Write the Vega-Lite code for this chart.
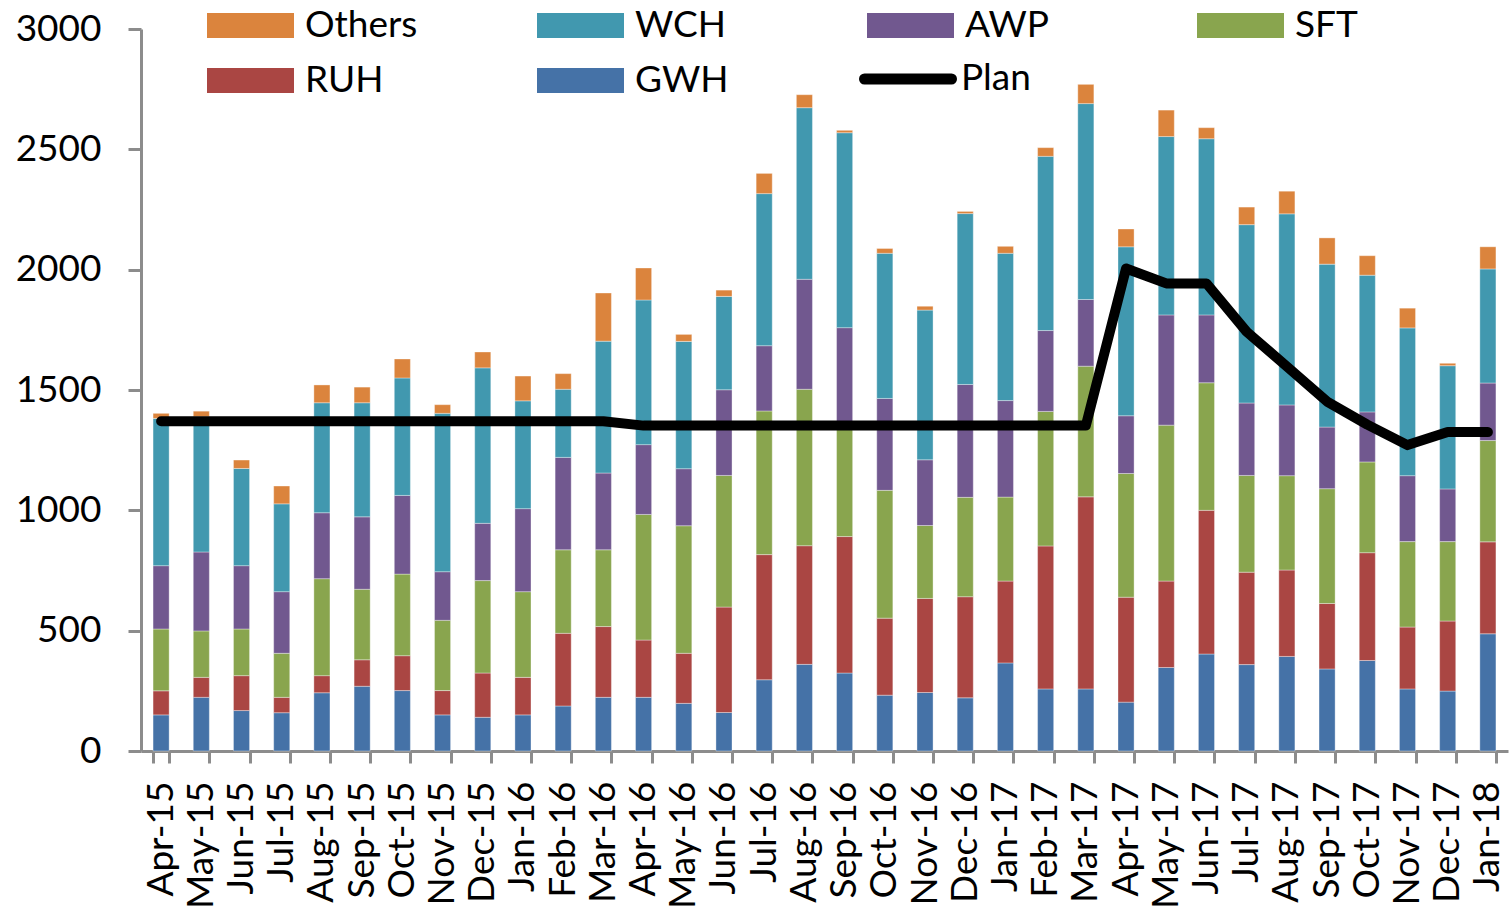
{
  "$schema": "https://vega.github.io/schema/vega-lite/v6.json",
  "width": 1367,
  "height": 722,
  "autosize": "none",
  "padding": {"left": 141, "top": 29, "right": 2, "bottom": 165},
  "background": "white",
  "config": {
    "view": {"stroke": null},
    "font": "Lato",
    "axis": {"labelFont": "Lato", "labelFontSize": 37, "labelColor": "#000000", "domainColor": "#8c8c8c", "domainWidth": 3, "tickColor": "#8c8c8c", "tickWidth": 3, "grid": false, "title": null},
    "legend": {"labelFont": "Lato", "labelFontSize": 37, "labelColor": "#000000", "labelOffset": 11, "labelLimit": 300, "padding": 0, "title": null}
  },
  "data": {
    "values": [
      {"m": "Apr-15", "GWH": 150, "RUH": 100, "SFT": 257, "AWP": 263, "WCH": 612, "Others": 21, "Plan": 1370},
      {"m": "May-15", "GWH": 223, "RUH": 83, "SFT": 193, "AWP": 328, "WCH": 562, "Others": 23, "Plan": 1370},
      {"m": "Jun-15", "GWH": 168, "RUH": 145, "SFT": 194, "AWP": 263, "WCH": 404, "Others": 35, "Plan": 1370},
      {"m": "Jul-15", "GWH": 159, "RUH": 64, "SFT": 183, "AWP": 256, "WCH": 365, "Others": 74, "Plan": 1370},
      {"m": "Aug-15", "GWH": 242, "RUH": 71, "SFT": 403, "AWP": 274, "WCH": 457, "Others": 74, "Plan": 1370},
      {"m": "Sep-15", "GWH": 269, "RUH": 110, "SFT": 293, "AWP": 301, "WCH": 474, "Others": 65, "Plan": 1370},
      {"m": "Oct-15", "GWH": 251, "RUH": 145, "SFT": 339, "AWP": 327, "WCH": 488, "Others": 79, "Plan": 1370},
      {"m": "Nov-15", "GWH": 150, "RUH": 101, "SFT": 292, "AWP": 202, "WCH": 658, "Others": 36, "Plan": 1370},
      {"m": "Dec-15", "GWH": 140, "RUH": 184, "SFT": 384, "AWP": 238, "WCH": 646, "Others": 66, "Plan": 1370},
      {"m": "Jan-16", "GWH": 150, "RUH": 156, "SFT": 356, "AWP": 345, "WCH": 448, "Others": 103, "Plan": 1370},
      {"m": "Feb-16", "GWH": 187, "RUH": 302, "SFT": 347, "AWP": 384, "WCH": 283, "Others": 65, "Plan": 1370},
      {"m": "Mar-16", "GWH": 223, "RUH": 294, "SFT": 319, "AWP": 319, "WCH": 548, "Others": 200, "Plan": 1370},
      {"m": "Apr-16", "GWH": 223, "RUH": 238, "SFT": 522, "AWP": 290, "WCH": 601, "Others": 133, "Plan": 1352},
      {"m": "May-16", "GWH": 198, "RUH": 208, "SFT": 530, "AWP": 237, "WCH": 529, "Others": 29, "Plan": 1352},
      {"m": "Jun-16", "GWH": 160, "RUH": 438, "SFT": 547, "AWP": 356, "WCH": 388, "Others": 26, "Plan": 1352},
      {"m": "Jul-16", "GWH": 296, "RUH": 520, "SFT": 597, "AWP": 271, "WCH": 632, "Others": 84, "Plan": 1352},
      {"m": "Aug-16", "GWH": 360, "RUH": 493, "SFT": 650, "AWP": 457, "WCH": 713, "Others": 54, "Plan": 1352},
      {"m": "Sep-16", "GWH": 324, "RUH": 567, "SFT": 459, "AWP": 409, "WCH": 810, "Others": 10, "Plan": 1352},
      {"m": "Oct-16", "GWH": 232, "RUH": 320, "SFT": 531, "AWP": 382, "WCH": 603, "Others": 20, "Plan": 1352},
      {"m": "Nov-16", "GWH": 243, "RUH": 391, "SFT": 303, "AWP": 273, "WCH": 622, "Others": 16, "Plan": 1352},
      {"m": "Dec-16", "GWH": 221, "RUH": 420, "SFT": 413, "AWP": 469, "WCH": 710, "Others": 9, "Plan": 1352},
      {"m": "Jan-17", "GWH": 366, "RUH": 340, "SFT": 349, "AWP": 401, "WCH": 612, "Others": 29, "Plan": 1352},
      {"m": "Feb-17", "GWH": 258, "RUH": 594, "SFT": 559, "AWP": 336, "WCH": 724, "Others": 36, "Plan": 1352},
      {"m": "Mar-17", "GWH": 258, "RUH": 798, "SFT": 543, "AWP": 277, "WCH": 814, "Others": 80, "Plan": 1352},
      {"m": "Apr-17", "GWH": 203, "RUH": 436, "SFT": 514, "AWP": 240, "WCH": 702, "Others": 74, "Plan": 2005},
      {"m": "May-17", "GWH": 347, "RUH": 359, "SFT": 648, "AWP": 458, "WCH": 741, "Others": 110, "Plan": 1943},
      {"m": "Jun-17", "GWH": 403, "RUH": 597, "SFT": 530, "AWP": 282, "WCH": 732, "Others": 46, "Plan": 1943},
      {"m": "Jul-17", "GWH": 359, "RUH": 384, "SFT": 402, "AWP": 301, "WCH": 741, "Others": 73, "Plan": 1742},
      {"m": "Aug-17", "GWH": 393, "RUH": 359, "SFT": 392, "AWP": 294, "WCH": 794, "Others": 94, "Plan": 1598},
      {"m": "Sep-17", "GWH": 341, "RUH": 272, "SFT": 477, "AWP": 256, "WCH": 677, "Others": 109, "Plan": 1452},
      {"m": "Oct-17", "GWH": 376, "RUH": 448, "SFT": 377, "AWP": 208, "WCH": 568, "Others": 81, "Plan": 1356},
      {"m": "Nov-17", "GWH": 258, "RUH": 257, "SFT": 355, "AWP": 274, "WCH": 614, "Others": 82, "Plan": 1271},
      {"m": "Dec-17", "GWH": 249, "RUH": 291, "SFT": 330, "AWP": 219, "WCH": 512, "Others": 10, "Plan": 1326},
      {"m": "Jan-18", "GWH": 487, "RUH": 382, "SFT": 421, "AWP": 239, "WCH": 474, "Others": 92, "Plan": 1325}
    ]
  },
  "encoding": {
    "x": {
      "field": "m",
      "type": "nominal",
      "sort": null,
      "scale": {"paddingInner": 0.6, "paddingOuter": 0.3},
      "axis": {"labelAngle": -90, "tickBand": "extent", "tickSize": 12, "labelPadding": 18, "domainWidth": 3}
    },
    "y": {
      "type": "quantitative",
      "scale": {"domain": [0, 3000], "nice": false},
      "axis": {"values": [0, 500, 1000, 1500, 2000, 2500, 3000], "format": "d", "tickSize": 13, "labelPadding": 27}
    }
  },
  "layer": [
    {
      "transform": [{"fold": ["GWH", "RUH", "SFT", "AWP", "WCH", "Others"], "as": ["series", "value"]}],
      "mark": {"type": "bar", "stroke": "#ffffff", "strokeWidth": 0.7, "strokeOpacity": 0.5},
      "encoding": {
        "y": {"field": "value", "stack": "zero"},
        "order": {"field": "m"},
        "color": {
          "field": "series",
          "type": "nominal",
          "scale": {
            "domain": ["Others", "WCH", "AWP", "SFT", "RUH", "GWH"],
            "range": ["#DB843D", "#4198AF", "#71588F", "#89A54E", "#AA4643", "#4572A7"]
          },
          "legend": {
            "orient": "none",
            "direction": "horizontal",
            "legendX": 66,
            "legendY": -31,
            "columns": 4,
            "gridAlign": "all",
            "columnPadding": 119,
            "rowPadding": 0,
            "clipHeight": 55,
            "symbolType": "M-1,-0.287H1V0.287H-1Z",
            "symbolSize": 7569,
            "symbolStrokeWidth": 0
          }
        }
      }
    },
    {
      "mark": {"type": "line", "strokeWidth": 10, "strokeCap": "round", "strokeJoin": "round"},
      "encoding": {
        "y": {"field": "Plan"},
        "stroke": {
          "datum": "Plan",
          "type": "nominal",
          "scale": {"domain": ["Plan"], "range": ["#000000"]},
          "legend": {
            "orient": "none",
            "direction": "horizontal",
            "legendX": 718,
            "legendY": 1,
            "labelOffset": 4,
            "symbolType": "stroke",
            "symbolSize": 7569,
            "symbolStrokeWidth": 11,
            "encode": {"symbols": {"update": {"strokeCap": {"value": "round"}}}}
          }
        }
      }
    }
  ]
}
